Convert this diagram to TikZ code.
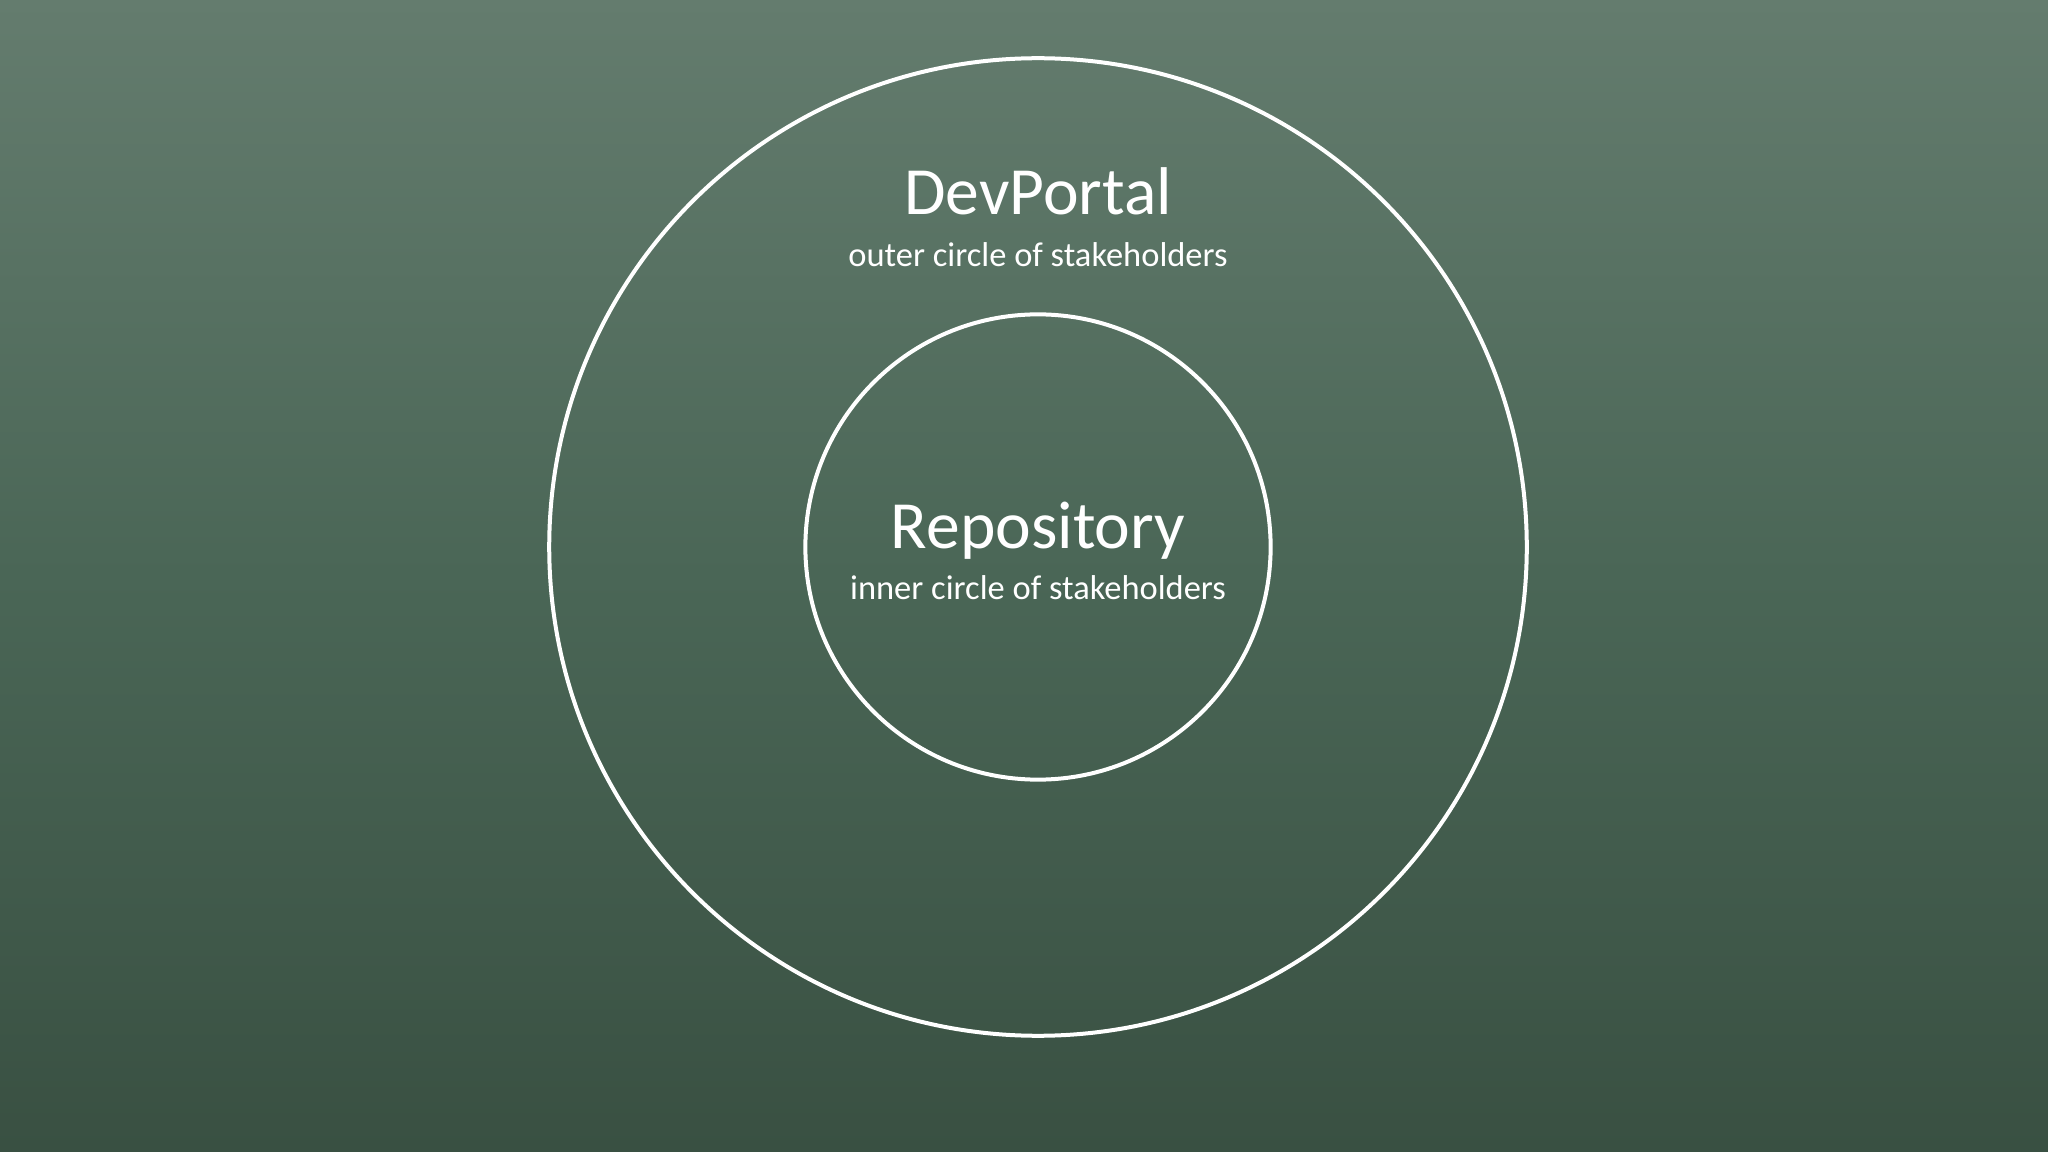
\documentclass[tikz,border=0pt]{standalone}
\usepackage{fontspec}
\setmainfont{Carlito}
\definecolor{bgtop}{RGB}{100,124,110}
\definecolor{bgmid}{RGB}{74,102,86}
\definecolor{bgbot}{RGB}{57,80,66}
\begin{document}
\begin{tikzpicture}[x=0.01cm,y=-0.01cm,
  ring/.style={draw=white,line width=0.04cm},
  title/.style={text=white,anchor=base,inner sep=0pt,font=\fontsize{19.2}{22}\selectfont},
  sub/.style={text=white,anchor=base,inner sep=0pt,font=\fontsize{9.8}{12}\selectfont}]
\shade[top color=bgtop,bottom color=bgbot,middle color=bgmid] (0,0) rectangle (2048,1152);
\useasboundingbox (0,0) rectangle (2048,1152);
\coordinate (c) at (1038,547);
\draw[ring] (c) circle[radius=4.885cm];
\draw[ring] (c) circle[radius=2.325cm];
\node[title] (dev) at (1038,215) {DevPortal};
\node[sub] (outer) at (1038,267) {outer circle of stakeholders};
\node[title] (repo) at (1038,548) {Repository};
\node[sub] (inner) at (1038,600) {inner circle of stakeholders};
\end{tikzpicture}
\end{document}
